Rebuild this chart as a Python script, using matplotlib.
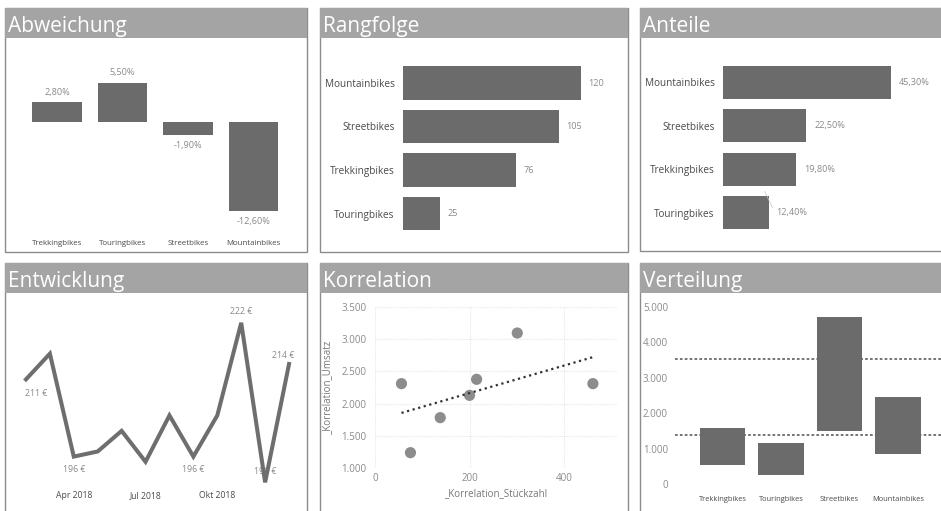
import numpy as np
import matplotlib
matplotlib.use("Agg")
import matplotlib.pyplot as plt
from matplotlib.patches import Rectangle

plt.rcParams['font.family'] = ['Open Sans', 'DejaVu Sans']

# ---- data ----
dev_categories = ["Trekkingbikes", "Touringbikes", "Streetbikes", "Mountainbikes"]
dev_values = [2.80, 5.50, -1.90, -12.60]

rank_categories = ["Mountainbikes", "Streetbikes", "Trekkingbikes", "Touringbikes"]
rank_values = [120, 105, 76, 25]

share_categories = ["Mountainbikes", "Streetbikes", "Trekkingbikes", "Touringbikes"]
share_values = [45.30, 22.50, 19.80, 12.40]

trend_months = ["Feb 2018", "Mrz 2018", "Apr 2018", "Mai 2018", "Jun 2018", "Jul 2018",
                "Aug 2018", "Sep 2018", "Okt 2018", "Nov 2018", "Dez 2018", "Jan 2019"]
trend_values = [211, 216, 196, 197, 201, 195, 204, 196, 204, 222, 191, 214]
trend_tick_labels = ["Apr 2018", "Jul 2018", "Okt 2018"]

corr_units = [56, 75, 138, 200, 215, 301, 461]
corr_revenue = [2310, 1238, 1782, 2128, 2377, 3096, 2310]

dist_categories = ["Trekkingbikes", "Touringbikes", "Streetbikes", "Mountainbikes"]
dist_low = [525, 263, 1500, 845]
dist_high = [1576, 1154, 4720, 2450]
dist_reference_lines = [3520, 1390]

# ---- styling ----
W, H = 941, 511
BAR = "#6b6b6b"
BAND = "#a4a4a4"
BORDER = "#8c8c8c"
LABEL = "#8a8a8a"
CAT = "#4a4a4a"

fig = plt.figure(figsize=(W / 100, H / 100), dpi=100, facecolor="white")


def frect(x0, y0, x1, y1):
    return [x0 / W, 1 - y1 / H, (x1 - x0) / W, (y1 - y0) / H]


def de_pct(v):
    return f"{v:.2f}%".replace(".", ",")


def de_thousands(v, pos=None):
    return f"{v:,.0f}".replace(",", ".")


def panel(x0, y0, x1, y1, title):
    fig.add_artist(Rectangle((x0 / W, 1 - y1 / H), (x1 - x0) / W, (y1 - y0) / H,
                             transform=fig.transFigure, facecolor="white",
                             edgecolor=BORDER, linewidth=1.0, zorder=-2))
    fig.add_artist(Rectangle((x0 / W, 1 - (y0 + 30) / H), (x1 - x0) / W, 30 / H,
                             transform=fig.transFigure, facecolor=BAND,
                             edgecolor="none", zorder=-1))
    fig.text((x0 + 3) / W, 1 - (y0 + 24) / H, title, color="white",
             fontsize=15, va="baseline", ha="left")


def clean(ax):
    ax.set_facecolor("none")
    for s in ax.spines.values():
        s.set_visible(False)
    ax.tick_params(length=0)


panel(5, 8, 307, 252, "Abweichung")
panel(320, 8, 628, 252, "Rangfolge")
panel(640, 8, 948, 251, "Anteile")
panel(5, 263, 307, 520, "Entwicklung")
panel(320, 263, 628, 520, "Korrelation")
panel(640, 263, 948, 520, "Verteilung")

# ---- Abweichung: deviations from zero ----
ax = fig.add_axes(frect(24.25, 65.2, 286.25, 237.7))
clean(ax)
xs = np.arange(len(dev_categories))
ax.bar(xs, dev_values, width=0.76, color=BAR)
ax.set_xlim(-0.5, len(dev_categories) - 0.5)
ax.set_ylim(-16.3, 8)
ax.set_yticks([])
ax.set_xticks(xs)
ax.set_xticklabels(dev_categories, fontsize=5.7, color=CAT)
ax.tick_params(axis="x", pad=2)
for x, v in zip(xs, dev_values):
    ax.annotate(de_pct(v), (x, v), xytext=(0, 4 if v > 0 else -4),
                textcoords="offset points", ha="center",
                va="bottom" if v > 0 else "top", fontsize=6.6, color=LABEL)


# ---- horizontal bar panels ----
def hbars(rect, cats, vals, xmax, fmt):
    ax = fig.add_axes(rect)
    clean(ax)
    ys = np.arange(len(cats))
    ax.barh(ys, vals, height=0.76, color=BAR)
    ax.set_ylim(len(cats) - 0.5, -0.5)
    ax.set_xlim(0, xmax)
    ax.set_xticks([])
    ax.set_yticks(ys)
    ax.set_yticklabels(cats, fontsize=7.2, color=CAT)
    ax.tick_params(axis="y", pad=6)
    for y, v in zip(ys, vals):
        ax.annotate(fmt(v), (v, y), xytext=(5.5, 0), textcoords="offset points",
                    ha="left", va="center", fontsize=6.6, color=LABEL)
    return ax


hbars(frect(403, 61.25, 610.6, 235.25), rank_categories, rank_values, 140, lambda v: f"{v}")
ax = hbars(frect(723, 60.5, 927, 234.5), share_categories, share_values, 55, de_pct)
# faint leader line for the smallest share label
last = len(share_values) - 1
ax.annotate("", (share_values[last] - 1.5, last - 0.55), xytext=(share_values[last] + 1.3, last - 0.05),
            arrowprops=dict(arrowstyle="-", color="#c4c4c4", lw=0.5))

# ---- Entwicklung: monthly line ----
ax = fig.add_axes(frect(14, 295, 301, 488))
clean(ax)
xi = np.arange(len(trend_values))
line, = ax.plot(xi, trend_values, color="#6e6e6e", linewidth=2.9, solid_joinstyle="miter",
                clip_on=False, zorder=3)
ax.set_xlim(-0.5, len(trend_values) - 0.5)
ax.set_ylim(189.9, 227.4)
ax.set_yticks([])
ax.set_xticks([trend_months.index(m) for m in trend_tick_labels])
ax.set_xticklabels(trend_tick_labels, fontsize=6.2, color=CAT)
ax.tick_params(axis="x", pad=2)
label_offsets = {0: (7, -10), 2: (0, -9), 7: (0, -9), 9: (0, 8), 10: (0, 8), 11: (-4, 6)}
for i, (dx, dy) in label_offsets.items():
    ax.annotate(f"{trend_values[i]} €", (i, trend_values[i]), xytext=(dx, dy),
                textcoords="offset points", ha="center", va="center",
                fontsize=6.3, color=LABEL, zorder=1)

# ---- Korrelation: scatter with linear trend ----
ax = fig.add_axes(frect(375, 307, 617, 468))
clean(ax)
ax.scatter(corr_units, corr_revenue, s=65, color="#8c8c8c", edgecolors="none", zorder=3)
slope, intercept = np.polyfit(corr_units, corr_revenue, 1)
tx = np.array([min(corr_units), max(corr_units)])
ax.plot(tx, slope * tx + intercept, color="#333333", linewidth=1.6,
        linestyle=(0, (1, 1.6)), zorder=4)
ax.set_xlim(0, 512)
ax.set_ylim(1000, 3500)
ax.set_xticks([0, 200, 400])
ax.set_yticks([1000, 1500, 2000, 2500, 3000, 3500])
ax.yaxis.set_major_formatter(de_thousands)
ax.tick_params(axis="both", labelsize=7, labelcolor=LABEL)
ax.tick_params(axis="y", pad=6)
ax.tick_params(axis="x", pad=3.5)
ax.grid(True, color="#e8e8e8", linewidth=0.8, linestyle=(0, (1, 1)))
ax.set_axisbelow(True)
ax.set_xlabel("_Korrelation_Stückzahl", fontsize=7, color="#777777", labelpad=3)
ax.set_ylabel("_Korrelation_Umsatz", fontsize=7, color="#777777", labelpad=6)

# ---- Verteilung: floating ranges ----
ax = fig.add_axes(frect(675, 297, 941, 490))
clean(ax)
xd = np.arange(len(dist_categories))
ax.bar(xd, np.array(dist_high) - np.array(dist_low), bottom=dist_low, width=0.77,
       color=BAR, zorder=2)
for yv in dist_reference_lines:
    ax.axhline(yv, color="#6a6a6a", linewidth=1.3, linestyle=(0, (1.5, 1.2)), zorder=3)
ax.set_xlim(-0.812, 3.735)
ax.set_ylim(-169, 5282)
ax.set_yticks([0, 1000, 2000, 3000, 4000, 5000])
ax.yaxis.set_major_formatter(de_thousands)
ax.set_xticks(xd)
ax.set_xticklabels(dist_categories, fontsize=5.4, color=CAT)
ax.tick_params(axis="y", labelsize=7, labelcolor=LABEL, pad=5)
ax.tick_params(axis="x", pad=4)

fig.savefig("out.png", dpi=100, facecolor="white")
